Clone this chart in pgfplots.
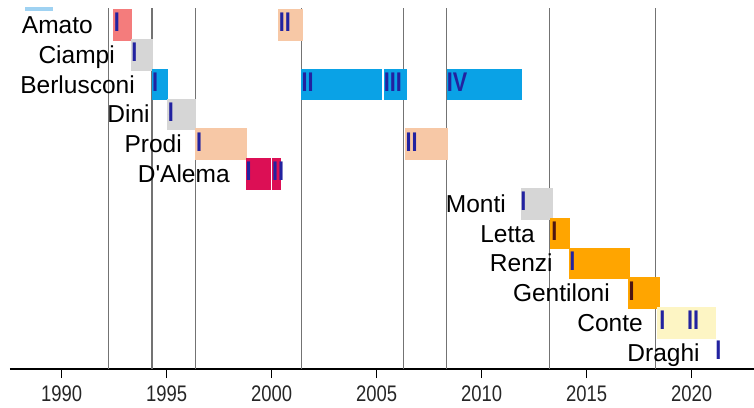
\documentclass[border=0pt]{standalone}
\usepackage{fontspec}
\setmainfont{Liberation Sans}[Ligatures=TeXOff]
\newfontfamily\numfont{Liberation Sans}[FakeStretch=0.8]
\newfontfamily\tickfont{Liberation Sans}[FakeStretch=0.82]
\usepackage{pgfplots}
\pgfplotsset{compat=1.18}
\usepackage{pgfplotstable}

\definecolor{cDeMita}{HTML}{9FD2F2}
\definecolor{cPSI}{HTML}{F47C7C}
\definecolor{cPeach}{HTML}{F7C8A6}
\definecolor{cGray}{HTML}{D6D6D6}
\definecolor{cFI}{HTML}{0AA2E6}
\definecolor{cDS}{HTML}{DC0F55}
\definecolor{cPD}{HTML}{FFA500}
\definecolor{cConte}{HTML}{FDF5C4}
\definecolor{cNum}{HTML}{2222A0}
\definecolor{cNumBrown}{HTML}{4E1612}
\definecolor{cLine}{HTML}{737373}

\pgfplotstableread{
x y name
1991.49 0 Amato
1992.54 -1 Ciampi
1993.49 -2 Berlusconi
1994.20 -3 Dini
1995.73 -4 Prodi
1998.01 -5 D'Alema
2011.16 -6 Monti
2012.54 -7 Letta
2013.39 -8 Renzi
2016.11 -9 Gentiloni
2017.68 -10 Conte
2020.39 -11 Draghi
}\names

\pgfplotstableread{
x y lab
1992.54 0 I
2000.40 0 II
1993.38 -1 I
1994.36 -2 I
2001.49 -2 II
2005.40 -2 III
2008.40 -2 IV
1995.11 -3 I
1996.46 -4 I
2006.44 -4 II
1998.82 -5 I
2000.08 -5 II
2011.90 -6 I
2014.24 -8 I
2018.52 -10 I
2019.84 -10 II
2021.19 -11 I
}\numsblue

\pgfplotstableread{
x y lab
2013.38 -7 I
2017.06 -9 I
}\numsbrown

\begin{document}
\begin{tikzpicture}
\begin{axis}[
  scale only axis, width=744pt, height=361pt,
  xmin=1987.54, xmax=2022.97,
  ymin=-11.544, ymax=0.570,
  axis x line=bottom, axis y line=none,
  x axis line style={-, line width=1.3pt, black},
  xtick={1990,1995,2000,2005,2010,2015,2020},
  xticklabels={1990,1995,2000,2005,2010,2015,2020},
  xtick align=outside,
  major tick length=9pt,
  tick style={black, line width=1.3pt},
  xticklabel style={font=\tickfont\fontsize{22.5}{24}\selectfont, text=black!85, anchor=north, inner sep=0pt, yshift=-8pt},
  extra x ticks={1992.25,1994.30,1996.39,2001.40,2006.30,2008.34,2013.25,2018.30},
  extra x tick labels={},
  extra x tick style={grid=major, major tick length=0pt, major grid style={cLine, line width=1.1pt}},
  clip=true,
]
% De Mita (row above, cut off)
\addplot[fill=cDeMita, draw=none] coordinates {(1988.25,0.47) (1989.58,0.47) (1989.58,1.53) (1988.25,1.53)} -- cycle;
% Amato
\addplot[fill=cPSI, draw=none] coordinates {(1992.44,-0.53) (1993.35,-0.53) (1993.35,0.53) (1992.44,0.53)} -- cycle;
\addplot[fill=cPeach, draw=none] coordinates {(2000.31,-0.53) (2001.48,-0.53) (2001.48,0.53) (2000.31,0.53)} -- cycle;
% Ciampi
\addplot[fill=cGray, draw=none] coordinates {(1993.29,-1.53) (1994.33,-1.53) (1994.33,-0.47) (1993.29,-0.47)} -- cycle;
% Berlusconi
\addplot[fill=cFI, draw=none] coordinates {(1994.29,-2.53) (1995.07,-2.53) (1995.07,-1.47) (1994.29,-1.47)} -- cycle;
\addplot[fill=cFI, draw=none] coordinates {(2001.40,-2.53) (2005.26,-2.53) (2005.26,-1.47) (2001.40,-1.47)} -- cycle;
\addplot[fill=cFI, draw=none] coordinates {(2005.35,-2.53) (2006.44,-2.53) (2006.44,-1.47) (2005.35,-1.47)} -- cycle;
\addplot[fill=cFI, draw=none] coordinates {(2008.35,-2.53) (2011.93,-2.53) (2011.93,-1.47) (2008.35,-1.47)} -- cycle;
% Dini
\addplot[fill=cGray, draw=none] coordinates {(1995.02,-3.53) (1996.42,-3.53) (1996.42,-2.47) (1995.02,-2.47)} -- cycle;
% Prodi
\addplot[fill=cPeach, draw=none] coordinates {(1996.35,-4.53) (1998.84,-4.53) (1998.84,-3.47) (1996.35,-3.47)} -- cycle;
\addplot[fill=cPeach, draw=none] coordinates {(2006.33,-4.53) (2008.42,-4.53) (2008.42,-3.47) (2006.33,-3.47)} -- cycle;
% D'Alema
\addplot[fill=cDS, draw=none] coordinates {(1998.76,-5.53) (1999.95,-5.53) (1999.95,-4.47) (1998.76,-4.47)} -- cycle;
\addplot[fill=cDS, draw=none] coordinates {(2000.03,-5.53) (2000.43,-5.53) (2000.43,-4.47) (2000.03,-4.47)} -- cycle;
% Monti
\addplot[fill=cGray, draw=none] coordinates {(2011.87,-6.53) (2013.38,-6.53) (2013.38,-5.47) (2011.87,-5.47)} -- cycle;
% Letta
\addplot[fill=cPD, draw=none] coordinates {(2013.25,-7.53) (2014.20,-7.53) (2014.20,-6.47) (2013.25,-6.47)} -- cycle;
% Renzi
\addplot[fill=cPD, draw=none] coordinates {(2014.15,-8.53) (2017.06,-8.53) (2017.06,-7.47) (2014.15,-7.47)} -- cycle;
% Gentiloni
\addplot[fill=cPD, draw=none] coordinates {(2016.98,-9.53) (2018.49,-9.53) (2018.49,-8.47) (2016.98,-8.47)} -- cycle;
% Conte
\addplot[fill=cConte, draw=none] coordinates {(2018.36,-10.53) (2021.16,-10.53) (2021.16,-9.47) (2018.36,-9.47)} -- cycle;

% names
\addplot[only marks, mark=*, mark options={draw=none, fill=none}, mark size=0pt,
  nodes near coords, point meta=explicit symbolic,
  every node near coord/.append style={anchor=base east, inner sep=0pt, yshift=-8.5pt,
    font=\fontsize{24.5}{26}\selectfont, text=black}]
  table[x=x, y=y, meta=name] {\names};
% numerals
\addplot[only marks, mark=*, mark options={draw=none, fill=none}, mark size=0pt,
  nodes near coords, point meta=explicit symbolic,
  every node near coord/.append style={anchor=base west, inner sep=0pt, yshift=-7pt, xshift=-1.4pt,
    font=\numfont\bfseries\fontsize{27}{28}\selectfont, text=cNum}]
  table[x=x, y=y, meta=lab] {\numsblue};
\addplot[only marks, mark=*, mark options={draw=none, fill=none}, mark size=0pt,
  nodes near coords, point meta=explicit symbolic,
  every node near coord/.append style={anchor=base west, inner sep=0pt, yshift=-7pt, xshift=-1.4pt,
    font=\numfont\bfseries\fontsize{27}{28}\selectfont, text=cNumBrown}]
  table[x=x, y=y, meta=lab] {\numsbrown};
\end{axis}
\pgfresetboundingbox
\path[use as bounding box] ([xshift=-10pt,yshift=-38pt]current axis.south west) rectangle ([yshift=8pt]current axis.north east);
\end{tikzpicture}
\end{document}
